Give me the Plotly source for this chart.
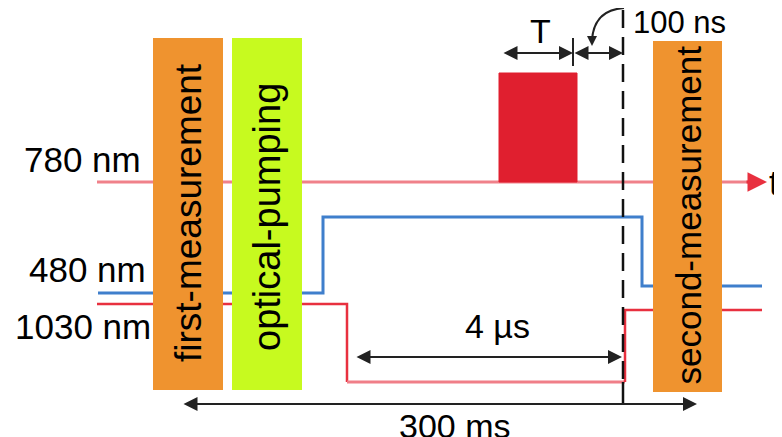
import plotly.graph_objects as go

# ---------------- data (schematic timing diagram, in figure units) ----------------
channel_labels = ["780 nm", "480 nm", "1030 nm"]
channel_label_x = [143, 148, 153]
channel_label_y = [159, 269, 326]

t780 = [97, 757]
y780 = [182, 182]
pulse_t = [499, 499, 577, 577, 499]
pulse_y = [182, 73, 73, 182, 182]

t480 = [98, 323, 323, 642, 642, 762]
y480 = [293, 293, 217, 217, 286, 286]

t1030_a = [97, 347, 347]
y1030_a = [304, 304, 382]
t1030_b = [347, 625]
y1030_b = [382, 382]
t1030_c = [625, 625, 762]
y1030_c = [382, 310, 310]

box_labels = ["first-measurement", "optical-pumping", "second-measurement"]
box_x0 = [153, 232, 653]
box_x1 = [223, 302, 722]
box_y0 = [38, 38, 41]
box_y1 = [390, 390, 392]
box_colors = ["#ef932f", "#c7fa1f", "#ef932f"]
box_font = [37, 38, 35]
box_text_y = [213, 217, 215]

readout_t = 623
dashed_y = [10, 382]
solid_y = [382, 405]

# interval arrows: (label, start, end, level)
interval_labels = ["T", "", "4 µs", "300 ms"]
interval_start = [502, 573, 355, 182]
interval_end = [573, 623, 622, 697]
interval_level = [53, 53, 357, 404]
interval_text_x = [540, 0, 497, 455]
interval_text_y = [31, 0, 326, 426]

font_family = "Liberation Sans, Arial, sans-serif"

fig = go.Figure()

# waveforms
fig.add_trace(go.Scatter(x=t780, y=y780, mode="lines",
                         line=dict(color="#f0818a", width=3), hoverinfo="skip"))
fig.add_trace(go.Scatter(x=pulse_t, y=pulse_y, mode="lines", fill="toself",
                         fillcolor="#e01f2f", line=dict(color="#e01f2f", width=1),
                         hoverinfo="skip"))
fig.add_trace(go.Scatter(x=t480, y=y480, mode="lines",
                         line=dict(color="#3f7fcc", width=3), hoverinfo="skip"))
fig.add_trace(go.Scatter(x=t1030_a, y=y1030_a, mode="lines",
                         line=dict(color="#e8303f", width=2.5), hoverinfo="skip"))
fig.add_trace(go.Scatter(x=t1030_b, y=y1030_b, mode="lines",
                         line=dict(color="#f07e88", width=3), hoverinfo="skip"))
fig.add_trace(go.Scatter(x=t1030_c, y=y1030_c, mode="lines",
                         line=dict(color="#e8303f", width=2.5), hoverinfo="skip"))

# dashed readout marker
fig.add_trace(go.Scatter(x=[readout_t, readout_t], y=dashed_y, mode="lines",
                         line=dict(color="#111111", width=2.5, dash="18px,9px"),
                         hoverinfo="skip"))
fig.add_trace(go.Scatter(x=[readout_t, readout_t], y=solid_y, mode="lines",
                         line=dict(color="#111111", width=2.5), hoverinfo="skip"))

# boxes
for lab, x0, x1, y0, y1, c, fs, ty in zip(box_labels, box_x0, box_x1, box_y0,
                                           box_y1, box_colors, box_font, box_text_y):
    fig.add_trace(go.Scatter(x=[x0, x1, x1, x0, x0], y=[y0, y0, y1, y1, y0],
                             mode="lines", fill="toself", fillcolor=c,
                             line=dict(color=c, width=0), hoverinfo="skip"))
    fig.add_annotation(x=(x0 + x1) / 2, y=ty, text=lab, textangle=-90,
                       showarrow=False, font=dict(family=font_family, size=fs,
                                                  color="black"))

# channel labels
for lab, xx, yy in zip(channel_labels, channel_label_x, channel_label_y):
    fig.add_annotation(x=xx, y=yy, text=lab, showarrow=False, xanchor="right",
                       font=dict(family=font_family, size=35, color="black"))

# arrow at end of 780 nm line + "t"
fig.add_annotation(x=767, y=182, ax=745, ay=182, axref="x", ayref="y",
                   showarrow=True, arrowhead=2, arrowsize=1.3, arrowwidth=3,
                   arrowcolor="#e8303f", text="", standoff=0)
fig.add_annotation(x=774, y=182, text="t", showarrow=False, xanchor="center",
                   font=dict(family=font_family, size=35, color="black"))

# interval arrows
for lab, s, e, lv, tx, ty in zip(interval_labels, interval_start, interval_end,
                                 interval_level, interval_text_x, interval_text_y):
    fig.add_annotation(x=e, y=lv, ax=s, ay=lv, axref="x", ayref="y", text="",
                       showarrow=True, arrowhead=2, arrowside="end+start",
                       arrowsize=1.4, arrowwidth=2, arrowcolor="#222222", standoff=0,
                       startstandoff=0)
    if lab:
        fig.add_annotation(x=tx, y=ty, text=lab, showarrow=False,
                           font=dict(family=font_family, size=34, color="black"))

# tick separating T and 100 ns
fig.add_trace(go.Scatter(x=[573, 573], y=[38, 66], mode="lines",
                         line=dict(color="#222222", width=2), hoverinfo="skip"))

# curved pointer to 100 ns
fig.add_shape(type="path", path="M 624,8 Q 594,10 592,40", xref="x", yref="y",
              line=dict(color="#222222", width=2))
fig.add_annotation(x=592, y=46, ax=592, ay=36, axref="x", ayref="y", text="",
                   showarrow=True, arrowhead=2, arrowsize=1, arrowwidth=2,
                   arrowcolor="#222222", standoff=0)
fig.add_annotation(x=631, y=22, text="100 ns", showarrow=False, xanchor="left",
                   font=dict(family=font_family, size=31, color="black"))

# the page adds an 8px body margin; shift the ranges so page pixels match
fig.update_layout(width=782, height=437, margin=dict(l=0, r=0, t=0, b=0),
                  plot_bgcolor="white", paper_bgcolor="white", showlegend=False)
fig.update_xaxes(range=[8, 790], visible=False, fixedrange=True)
fig.update_yaxes(range=[445, 8], visible=False, fixedrange=True)

fig.write_html("out.html")
